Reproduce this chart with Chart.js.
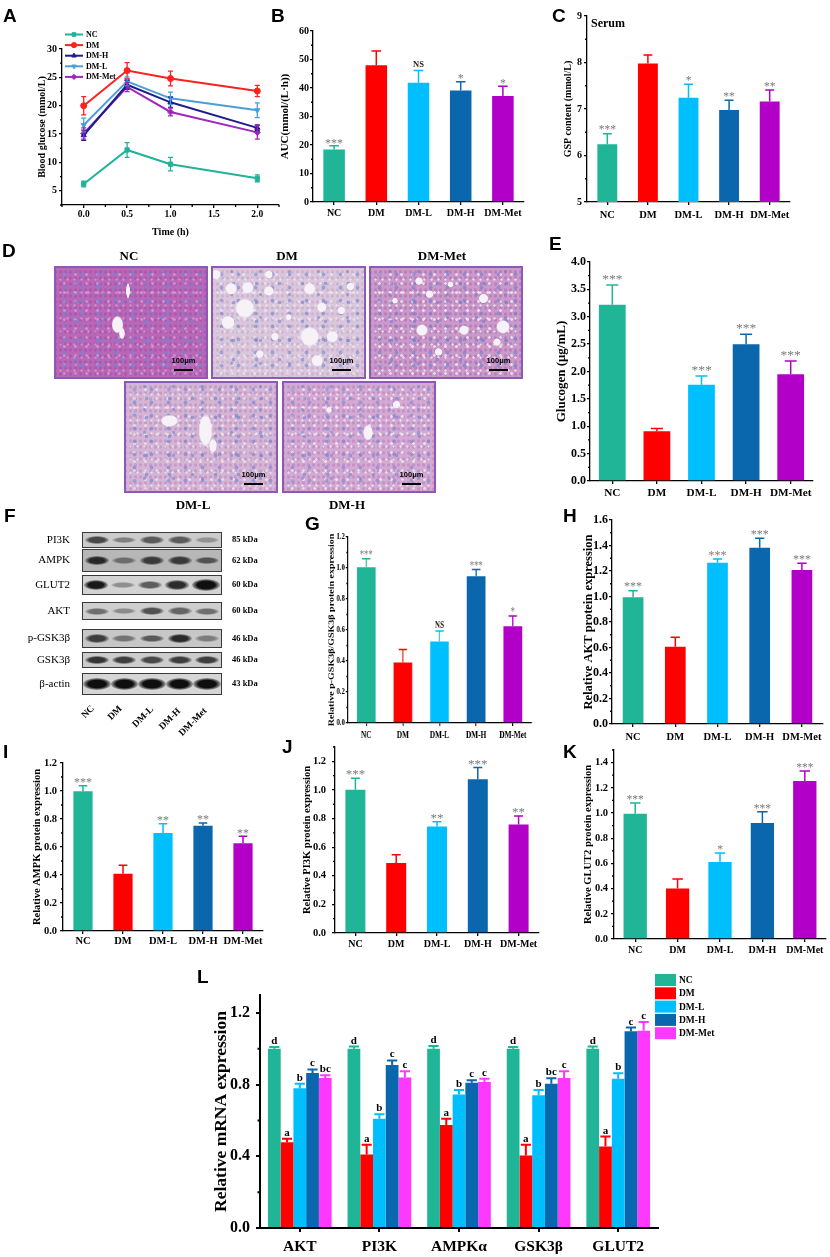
<!DOCTYPE html>
<html>
<head>
<meta charset="utf-8">
<script src="https://cdn.jsdelivr.net/npm/chart.js@4.4.1/dist/chart.umd.min.js"></script>
<style>
html,body{margin:0;padding:0;background:#fff;}
#page{position:relative;width:830px;height:1257px;overflow:hidden;background:#fff;}
.histo{position:absolute;box-sizing:border-box;border:2px solid #8e58b6;}
.blot{position:absolute;box-sizing:border-box;border:1px solid #3a3a3a;display:flex;justify-content:space-around;align-items:center;padding:0;}
.band{border-radius:50%;}
</style>
</head>
<body>
<div id="page"></div>
<script>
// ================= DATA =================
const groups = ['NC', 'DM', 'DM-L', 'DM-H', 'DM-Met'];

// A: blood glucose over time
const timeH = [0, 0.5, 1, 2];
const bgNC  = [6.2, 12.2, 9.7, 7.2];    const bgNCErr  = [0.5, 1.3, 1.2, 0.6];
const bgDM  = [20.0, 26.2, 24.8, 22.6]; const bgDMErr  = [1.6, 1.4, 1.3, 1.0];
const bgDMH = [14.8, 23.7, 20.6, 16.1]; const bgDMHErr = [0.9, 0.8, 0.9, 0.5];
const bgDML = [16.6, 24.3, 21.3, 19.2]; const bgDMLErr = [1.2, 0.8, 1.1, 1.3];
const bgMet = [15.1, 23.3, 18.9, 15.3]; const bgMetErr = [1.0, 0.8, 0.7, 1.2];
const ticksAy = [5, 10, 15, 20, 25, 30];
const ticksAx = [0, 0.5, 1, 1.5, 2];

// B: AUC
const aucVals = [18.4, 48.0, 41.8, 39.1, 37.2];
const aucErr  = [1.3, 5.0, 4.3, 3.1, 3.4];
const aucSig  = ['***', '', 'NS', '*', '*'];
const ticksB  = [0, 10, 20, 30, 40, 50, 60];

// C: GSP
const gspVals = [6.24, 7.98, 7.24, 6.98, 7.16];
const gspErr  = [0.23, 0.18, 0.29, 0.21, 0.25];
const gspSig  = ['***', '', '*', '**', '**'];
const ticksC  = [5, 6, 7, 8, 9];

// E: glycogen
const glyVals = [3.22, 0.91, 1.76, 2.50, 1.95];
const glyErr  = [0.36, 0.05, 0.16, 0.18, 0.24];
const glySig  = ['***', '', '***', '***', '***'];
const ticksE  = [0, 0.5, 1, 1.5, 2, 2.5, 3, 3.5, 4];

// G: p-GSK3b/GSK3b
const gskVals = [1.005, 0.39, 0.526, 0.947, 0.625];
const gskErr  = [0.055, 0.085, 0.067, 0.043, 0.065];
const gskSig  = ['***', '', 'NS', '***', '*'];
const ticksG  = [0, 0.2, 0.4, 0.6, 0.8, 1.0, 1.2];

// H: AKT protein
const aktVals = [0.995, 0.605, 1.265, 1.383, 1.207];
const aktErr  = [0.05, 0.075, 0.03, 0.073, 0.053];
const aktSig  = ['***', '', '***', '***', '***'];
const ticksH  = [0, 0.2, 0.4, 0.6, 0.8, 1.0, 1.2, 1.4, 1.6];

// I: AMPK protein
const ampkVals = [0.999, 0.409, 0.70, 0.752, 0.627];
const ampkErr  = [0.038, 0.06, 0.066, 0.02, 0.05];
const ampkSig  = ['***', '', '**', '**', '**'];
const ticksI   = [0, 0.2, 0.4, 0.6, 0.8, 1.0, 1.2];

// J: PI3K protein
const pi3kVals = [1.002, 0.489, 0.745, 1.074, 0.759];
const pi3kErr  = [0.08, 0.058, 0.033, 0.082, 0.058];
const pi3kSig  = ['***', '', '**', '***', '**'];
const ticksJ   = [0, 0.2, 0.4, 0.6, 0.8, 1.0, 1.2];

// K: GLUT2 protein
const glutVals = [0.995, 0.40, 0.612, 0.921, 1.254];
const glutErr  = [0.085, 0.077, 0.071, 0.088, 0.079];
const glutSig  = ['***', '', '*', '***', '***'];
const ticksK   = [0, 0.2, 0.4, 0.6, 0.8, 1.0, 1.2, 1.4];

// L: mRNA
const mrnaGenes = ['AKT', 'PI3K', 'AMPKα', 'GSK3β', 'GLUT2'];
const mrnaNC  = [1.0, 1.0, 1.0, 1.0, 1.0];          const mrnaNCErr  = [0.01, 0.012, 0.015, 0.01, 0.012];
const mrnaDM  = [0.478, 0.41, 0.575, 0.405, 0.455]; const mrnaDMErr  = [0.02, 0.055, 0.035, 0.06, 0.055];
const mrnaDML = [0.78, 0.61, 0.745, 0.74, 0.833];   const mrnaDMLErr = [0.025, 0.025, 0.025, 0.03, 0.03];
const mrnaDMH = [0.865, 0.91, 0.81, 0.805, 1.098];  const mrnaDMHErr = [0.02, 0.025, 0.015, 0.03, 0.02];
const mrnaMet = [0.837, 0.84, 0.815, 0.837, 1.10];  const mrnaMetErr = [0.015, 0.035, 0.018, 0.037, 0.05];
const mrnaLetNC  = ['d', 'd', 'd', 'd', 'd'];
const mrnaLetDM  = ['a', 'a', 'a', 'a', 'a'];
const mrnaLetDML = ['b', 'b', 'b', 'b', 'b'];
const mrnaLetDMH = ['c', 'c', 'c', 'bc', 'c'];
const mrnaLetMet = ['bc', 'c', 'c', 'c', 'c'];
const ticksL = [0, 0.4, 0.8, 1.2];

// F: western blot (picture mock-up)
const blotNames = ['PI3K', 'AMPK', 'GLUT2', 'AKT', 'p-GSK3β', 'GSK3β', 'β-actin'];
const blotKDa   = ['85 kDa', '62 kDa', '60 kDa', '60 kDa', '46 kDa', '46 kDa', '43 kDa'];
const blotBands = [[0.7,0.4,0.6,0.6,0.3],[0.85,0.45,0.75,0.75,0.6],[0.95,0.35,0.6,0.85,1],[0.5,0.35,0.65,0.55,0.5],[0.75,0.45,0.6,0.85,0.4],[0.8,0.75,0.7,0.75,0.75],[1,1,1,1,1]];

// ================= STYLE / LAYOUT =================
const SERIF = '"Liberation Serif","Times New Roman",serif';
const SANS = '"Liberation Sans",Arial,sans-serif';
const PW = 830, PH = 1257;
const page = document.getElementById('page');
const C_NC = '#1fb596', C_DM = '#ff0000', C_DML = '#00bfff', C_DMH = '#0a66ad', C_MET = '#b200c8', C_MET_L = '#ff38ff';
const barCols = [C_NC, C_DM, C_DML, C_DMH, C_MET];

function makeCanvas(sx) {
  const c = document.createElement('canvas');
  c.width = Math.round(PW / sx); c.height = PH;
  c.style.position = 'absolute'; c.style.left = '0px'; c.style.top = '0px';
  c.style.width = PW + 'px'; c.style.height = PH + 'px';
  page.appendChild(c);
  return c;
}
function fnt(size, weight) { return {size: size, weight: weight || 'bold', family: SERIF, lineHeight: 1.2}; }

function yAxis(o) {
  return {
    type: 'linear', position: 'left', min: o.min, max: o.max,
    afterBuildTicks: s => { s.ticks = o.ticks.map(v => ({value: v})); },
    afterFit: s => { s.width = o.w; },
    ticks: {font: fnt(o.fs), color: '#000', padding: o.pad, callback: v => Number(v).toFixed(o.dec)},
    grid: {display: true, drawOnChartArea: false, drawTicks: true, tickLength: o.tl, color: '#000', lineWidth: o.bw},
    border: {display: true, color: '#000', width: o.bw},
    title: {display: true, text: o.title, font: fnt(o.tfs), color: '#000', padding: 0}
  };
}
function xCat(o) {
  return {
    type: 'category', position: 'bottom', offset: true,
    afterFit: s => { s.height = o.h; },
    ticks: {font: fnt(o.fs), color: '#000', padding: o.pad, autoSkip: false, maxRotation: 0, minRotation: 0},
    grid: {display: true, drawOnChartArea: false, drawTicks: true, tickLength: o.tl, color: '#000', lineWidth: o.bw, offset: false},
    border: {display: true, color: '#000', width: o.bw}
  };
}

const errPlugin = {
  id: 'errbars',
  afterDatasetsDraw(chart, args, opts) {
    const ctx = chart.ctx, ys = chart.scales.y;
    chart.data.datasets.forEach((ds, di) => {
      if (!ds.err) return;
      const meta = chart.getDatasetMeta(di);
      meta.data.forEach((el, i) => {
        const raw = ds.data[i];
        const v = (typeof raw === 'object') ? raw.y : raw;
        const e = ds.err[i];
        const col = Array.isArray(ds.errColor) ? ds.errColor[i] : ds.errColor;
        const x = el.x;
        const yT = ys.getPixelForValue(v + e);
        const yB = ys.getPixelForValue(opts.both ? v - e : v);
        const cap = (opts.capPx != null) ? opts.capPx : el.width * opts.capFrac;
        ctx.save();
        ctx.strokeStyle = col; ctx.lineWidth = opts.lw;
        ctx.beginPath();
        ctx.moveTo(x, yB); ctx.lineTo(x, yT);
        ctx.moveTo(x - cap / 2, yT); ctx.lineTo(x + cap / 2, yT);
        if (opts.both) { ctx.moveTo(x - cap / 2, yB); ctx.lineTo(x + cap / 2, yB); }
        ctx.stroke();
        const s = ds.sig ? ds.sig[i] : '';
        if (s) {
          const isStar = s.indexOf('*') >= 0;
          ctx.font = isStar ? opts.starFont : opts.textFont;
          ctx.fillStyle = isStar ? opts.starColor : opts.textColor;
          ctx.textAlign = 'center'; ctx.textBaseline = 'alphabetic';
          const m = ctx.measureText(s);
          const gap = isStar ? opts.starGap : opts.textGap;
          ctx.fillText(s, x, yT - gap - m.actualBoundingBoxDescent);
        }
        ctx.restore();
      });
    });
  }
};

const minorPlugin = {
  id: 'minor',
  afterDraw(chart, args, opts) {
    const ctx = chart.ctx;
    (opts.axes || []).forEach(ax => {
      const sc = chart.scales[ax.id];
      const t = sc.ticks.map(k => k.value);
      if (t.length < 2) return;
      const step = t[1] - t[0];
      const vals = [];
      for (let v = t[0] - step / 2; v >= sc.min - 1e-9; v -= step) vals.push(v);
      for (let v = t[0] + step / 2; v <= sc.max + 1e-9; v += step) vals.push(v);
      ctx.save(); ctx.strokeStyle = '#000'; ctx.lineWidth = ax.lw; ctx.beginPath();
      vals.forEach(v => {
        const p = sc.getPixelForValue(v);
        if (sc.isHorizontal()) { ctx.moveTo(p, sc.top); ctx.lineTo(p, sc.top + ax.len); }
        else { ctx.moveTo(sc.right, p); ctx.lineTo(sc.right - ax.len, p); }
      });
      ctx.stroke(); ctx.restore();
    });
  }
};

function errOpts(starSize, starGap, textSize, textGap, lw, capFrac) {
  return {lw: lw || 1.5, capFrac: capFrac || 0.45, starFont: starSize + 'px ' + SERIF, starColor: '#7a7a7a', starGap: starGap,
    textFont: 'bold ' + textSize + 'px ' + SERIF, textColor: '#222', textGap: textGap};
}

function buildBar(cfg) {
  const sx = cfg.sx || 1, cw = PW / sx;
  const c = makeCanvas(sx);
  const l = cfg.area.l / sx, r = cfg.area.r / sx, t = cfg.area.t, b = cfg.area.b;
  const yo = Object.assign({bw: 1.3, tl: 3}, cfg.y);
  yo.w = l - cfg.y.titleX / sx + 0.6 * cfg.y.tfs;
  const xo = Object.assign({bw: yo.bw, tl: 3, h: 30}, cfg.x);
  xo.pad = cfg.x.labelY - b - xo.tl - 0.6 * xo.fs;
  const pluginOpts = Object.assign({legend: {display: false}, tooltip: {enabled: false}, title: {display: false},
    errbars: cfg.err, minor: {axes: [{id: 'y', len: cfg.minorLen || 2, lw: yo.bw}]}}, cfg.pluginOpts || {});
  return new Chart(c, {
    type: 'bar',
    data: {labels: cfg.labels, datasets: cfg.datasets},
    options: {
      responsive: false, animation: false, events: [],
      layout: {padding: {left: l - yo.w, right: cw - r, top: t, bottom: PH - b - xo.h}},
      scales: {x: xCat(xo), y: yAxis(yo)},
      plugins: pluginOpts
    },
    plugins: [errPlugin, minorPlugin].concat(cfg.extra || [])
  });
}
function single(vals, errs, sig, bp) {
  return [{data: vals, backgroundColor: barCols, borderWidth: 0, barPercentage: bp, categoryPercentage: 1, err: errs, errColor: barCols, sig: sig}];
}

// ================= PANEL A (line) =================
(function buildA() {
  const c = makeCanvas(1);
  const area = {l: 62, t: 49, r: 279, b: 205};
  const yfs = 10, ytfs = 10, yTitleX = 42, xfs = 9.5, xtfs = 10, xTitleY = 232, xLabY = 215, tl = 3, bw = 1.3;
  const yW = area.l - yTitleX + 0.6 * ytfs;
  const xH = xTitleY - area.b + 0.6 * xtfs;
  const series = [
    ['NC', bgNC, bgNCErr, '#21b39a', 'rect', 0],
    ['DM', bgDM, bgDMErr, '#ff2020', 'circle', 0],
    ['DM-H', bgDMH, bgDMHErr, '#1d1d8e', 'triangle', 0],
    ['DM-L', bgDML, bgDMLErr, '#4c9ed9', 'triangle', 180],
    ['DM-Met', bgMet, bgMetErr, '#a123c1', 'rectRot', 0]
  ];
  const datasets = series.map(s => ({
    label: s[0], data: timeH.map((tv, i) => ({x: tv, y: s[1][i]})), err: s[2], errColor: s[3],
    borderColor: s[3], backgroundColor: s[3], borderWidth: 2, pointStyle: s[4], pointRotation: s[5],
    pointRadius: 3, pointBorderWidth: 1, tension: 0, fill: false
  }));
  const legendA = {
    id: 'legA',
    afterDraw(chart, args, o) {
      const ctx = chart.ctx;
      chart.data.datasets.forEach((ds, i) => {
        const y = o.y0 + i * o.dy;
        ctx.save();
        ctx.strokeStyle = ds.borderColor; ctx.fillStyle = ds.borderColor; ctx.lineWidth = 2;
        ctx.beginPath(); ctx.moveTo(o.x0, y); ctx.lineTo(o.x0 + o.len, y); ctx.stroke();
        ctx.lineWidth = 1;
        if (Chart.helpers && Chart.helpers.drawPoint) {
          Chart.helpers.drawPoint(ctx, {pointStyle: ds.pointStyle, rotation: ds.pointRotation, radius: 2.6, borderWidth: 1}, o.x0 + o.len / 2, y);
        }
        ctx.fillStyle = '#000'; ctx.font = 'bold 8px ' + SERIF; ctx.textAlign = 'left'; ctx.textBaseline = 'middle';
        ctx.fillText(ds.label, o.tx, y + 0.5);
        ctx.restore();
      });
    }
  };
  new Chart(c, {
    type: 'line',
    data: {datasets: datasets},
    options: {
      responsive: false, animation: false, events: [],
      layout: {padding: {left: area.l - yW, right: PW - area.r, top: area.t, bottom: PH - area.b - xH}},
      scales: {
        x: {type: 'linear', position: 'bottom', min: -0.25, max: 2.25,
          afterBuildTicks: s => { s.ticks = ticksAx.map(v => ({value: v})); },
          afterFit: s => { s.height = xH; },
          ticks: {font: fnt(xfs), color: '#000', padding: xLabY - area.b - tl - 0.6 * xfs, callback: v => Number(v).toFixed(1)},
          grid: {display: true, drawOnChartArea: false, drawTicks: true, tickLength: tl, color: '#000', lineWidth: bw},
          border: {display: true, color: '#000', width: bw},
          title: {display: true, text: 'Time (h)', font: fnt(xtfs), color: '#000', padding: 0}},
        y: yAxis({min: 2.5, max: 30, ticks: ticksAy, dec: 0, fs: yfs, tl: tl, pad: 2, bw: bw, title: 'Blood glucose (mmol/L)', tfs: ytfs, w: yW})
      },
      plugins: {legend: {display: false}, tooltip: {enabled: false}, title: {display: false},
        errbars: {both: true, capPx: 5, lw: 1.3},
        minor: {axes: [{id: 'y', len: 2, lw: bw}, {id: 'x', len: 2, lw: bw}]},
        legA: {x0: 65, len: 18, y0: 34.5, dy: 10.6, tx: 86}}
    },
    plugins: [errPlugin, minorPlugin, legendA]
  });
})();

// ================= BAR PANELS =================
buildBar({area: {l: 313, t: 31, r: 524, b: 202}, labels: groups, datasets: single(aucVals, aucErr, aucSig, 0.51),
  y: {min: 0, max: 60, ticks: ticksB, dec: 0, fs: 10, pad: 1, title: 'AUC(mmol/(L·h))', tfs: 11, titleX: 285},
  x: {fs: 10, labelY: 213}, err: errOpts(12, 2.3, 8.5, 3.5)});

buildBar({area: {l: 587, t: 16, r: 790, b: 202}, labels: groups, datasets: single(gspVals, gspErr, gspSig, 0.49),
  y: {min: 5, max: 9, ticks: ticksC, dec: 0, fs: 10, pad: 2, title: 'GSP content (mmol/L)', tfs: 10, titleX: 568},
  x: {fs: 10.5, labelY: 215}, err: errOpts(11.5, 3.3, 8.5, 3)});

buildBar({area: {l: 590, t: 262, r: 813, b: 481}, labels: groups, datasets: single(glyVals, glyErr, glySig, 0.6),
  y: {min: 0, max: 4, ticks: ticksE, dec: 1, fs: 12, pad: 1, title: 'Glucogen (μg/mL)', tfs: 13, titleX: 562},
  x: {fs: 11.2, labelY: 493}, err: errOpts(13.5, 5, 9, 3)});

buildBar({sx: 0.75, area: {l: 348, t: 537, r: 531, b: 723}, labels: groups, datasets: single(gskVals, gskErr, gskSig, 0.51),
  y: {min: 0, max: 1.2, ticks: ticksG, dec: 1, fs: 9, pad: 1, title: 'Relative p-GSK3β/GSK3β protein expression', tfs: 10, titleX: 332},
  x: {fs: 9.7, labelY: 735}, err: errOpts(11.5, 4, 9.5, 2.7)});

buildBar({area: {l: 612, t: 520, r: 823, b: 724}, labels: groups, datasets: single(aktVals, aktErr, aktSig, 0.49),
  y: {min: 0, max: 1.6, ticks: ticksH, dec: 1, fs: 12, pad: 1, title: 'Relative AKT protein expression', tfs: 12.5, titleX: 589},
  x: {fs: 10.5, labelY: 737}, err: errOpts(12, 3.3, 9, 3)});

buildBar({area: {l: 63, t: 763, r: 263, b: 931}, labels: groups, datasets: single(ampkVals, ampkErr, ampkSig, 0.48),
  y: {min: 0, max: 1.2, ticks: ticksI, dec: 1, fs: 10.5, pad: 3, title: 'Relative AMPK protein expression', tfs: 10.5, titleX: 37},
  x: {fs: 10.5, labelY: 941}, err: errOpts(12, 2.5, 9, 3)});

buildBar({area: {l: 335, t: 747, r: 539, b: 933}, labels: groups, datasets: single(pi3kVals, pi3kErr, pi3kSig, 0.49),
  y: {min: 0, max: 1.3, ticks: ticksJ, dec: 1, fs: 10.5, pad: 6, title: 'Relative PI3K protein expression', tfs: 10.5, titleX: 307},
  x: {fs: 10, labelY: 944}, err: errOpts(13, 3, 9, 3)});

buildBar({area: {l: 614, t: 750, r: 826, b: 939}, labels: groups, datasets: single(glutVals, glutErr, glutSig, 0.55),
  y: {min: 0, max: 1.5, ticks: ticksK, dec: 1, fs: 10.5, pad: 3, title: 'Relative GLUT2 protein expression', tfs: 10.5, titleX: 588},
  x: {fs: 10, labelY: 950}, err: errOpts(11.5, 3, 9, 3)});

// ================= PANEL L (grouped) =================
(function buildL() {
  const mk = (label, vals, errs, lets, col) => ({label: label, data: vals, err: errs, sig: lets, errColor: col, backgroundColor: col,
    borderWidth: 0, barPercentage: 1, categoryPercentage: 0.8});
  const datasets = [
    mk('NC', mrnaNC, mrnaNCErr, mrnaLetNC, C_NC),
    mk('DM', mrnaDM, mrnaDMErr, mrnaLetDM, C_DM),
    mk('DM-L', mrnaDML, mrnaDMLErr, mrnaLetDML, C_DML),
    mk('DM-H', mrnaDMH, mrnaDMHErr, mrnaLetDMH, C_DMH),
    mk('DM-Met', mrnaMet, mrnaMetErr, mrnaLetMet, C_MET_L)
  ];
  const legendL = {
    id: 'legL',
    afterDraw(chart, args, o) {
      const ctx = chart.ctx;
      chart.data.datasets.forEach((ds, i) => {
        const y = o.y0 + i * o.dy;
        ctx.save();
        ctx.fillStyle = ds.backgroundColor; ctx.fillRect(o.x0, y - o.bh / 2, o.bw, o.bh);
        ctx.fillStyle = '#000'; ctx.font = 'bold 9.5px ' + SERIF; ctx.textAlign = 'left'; ctx.textBaseline = 'middle';
        ctx.fillText(ds.label, o.x0 + o.bw + 3, y + 0.5);
        ctx.restore();
      });
    }
  };
  buildBar({area: {l: 260, t: 995, r: 658, b: 1228}, labels: mrnaGenes, datasets: datasets,
    y: {min: 0, max: 1.3, ticks: ticksL, dec: 1, fs: 16, tl: 4, pad: 6, bw: 2, title: 'Relative mRNA expression', tfs: 17.5, titleX: 221},
    x: {fs: 15.5, tl: 4, labelY: 1247},
    minorLen: 2.5,
    err: {lw: 2, capFrac: 0.8, starFont: 'bold 11px ' + SERIF, starColor: '#000', starGap: 3, textFont: 'bold 11px ' + SERIF, textColor: '#000', textGap: 3},
    pluginOpts: {legL: {x0: 655, y0: 980, dy: 13.3, bw: 21, bh: 12}},
    extra: [legendL]
  });
})();

// ================= D: histology picture mock-ups =================
const histoSpecs = [
  {x: 54, y: 266, w: 154, h: 113, base: '#b968b8', nuc: 'rgba(110,135,210,0.7)', dots: 'rgba(225,180,225,0.55)', pink: 'rgba(150,60,150,0.35)',
   vac: [[41, 52, 6, 9], [48, 21, 2, 8], [44, 60, 3, 6]]},
  {x: 211, y: 266, w: 155, h: 113, base: '#d9c8db', nuc: 'rgba(105,130,205,0.55)', dots: 'rgba(250,250,250,0.5)', pink: 'rgba(190,140,195,0.35)',
   vac: [[21,37,10,10],[10,50,7,7],[12,19,6,6],[23,18,6,6],[37,21,5,5],[64,63,10,10],[64,19,6,6],[72,36,5,5],[79,63,6,6],[69,85,6,6],[91,17,4,4],[41,63,4,4],[31,79,4,4],[2,6,5,5],[37,6,4,4],[85,39,4,4],[50,45,3,3]]},
  {x: 369, y: 266, w: 154, h: 113, base: '#c99bc9', nuc: 'rgba(105,130,205,0.6)', dots: 'rgba(250,250,250,0.7)', pink: 'rgba(170,70,170,0.35)',
   vac: [[88,54,7,7],[34,57,6,6],[75,28,5,5],[39,24,4,4],[62,57,5,5],[32,12,4,4],[84,68,4,4],[45,77,4,4],[16,30,3,3],[53,15,3,3]]},
  {x: 124, y: 381, w: 154, h: 112, base: '#d3b6d4', nuc: 'rgba(105,135,210,0.6)', dots: 'rgba(250,250,250,0.55)', pink: 'rgba(180,90,180,0.3)',
   vac: [[29,35,9,6],[53,44,7,17],[58,58,4,7]]},
  {x: 282, y: 381, w: 154, h: 112, base: '#d1abd2', nuc: 'rgba(105,135,210,0.55)', dots: 'rgba(250,250,250,0.65)', pink: 'rgba(180,80,180,0.3)',
   vac: [[56,46,5,8],[75,20,4,4],[30,25,3,3]]}
];
function dotLayer(col, r, px, py, ox, oy) {
  return 'radial-gradient(circle at 50% 50%, ' + col + ' 0 ' + r + 'px, rgba(0,0,0,0) ' + (r + 0.7) + 'px) ' + ox + 'px ' + oy + 'px/' + px + 'px ' + py + 'px';
}
function histoBg(h) {
  const layers = [];
  h.vac.forEach(v => layers.push('radial-gradient(' + v[2] + 'px ' + v[3] + 'px at ' + v[0] + '% ' + v[1] + '%, rgba(247,242,247,1) 0 80%, rgba(247,242,247,0) 100%) no-repeat'));
  layers.push(dotLayer(h.nuc, 1.6, 17, 13, 0, 0));
  layers.push(dotLayer(h.nuc, 1.4, 23, 19, 9, 6));
  layers.push(dotLayer(h.nuc, 1.2, 29, 23, 4, 15));
  layers.push(dotLayer(h.dots, 1.0, 11, 9, 3, 2));
  layers.push(dotLayer(h.dots, 0.8, 7, 13, 1, 5));
  layers.push(dotLayer(h.pink, 1.3, 5, 6, 2, 1));
  layers.push(h.base);
  return layers.join(',');
}
histoSpecs.forEach(h => {
  const d = document.createElement('div');
  d.className = 'histo';
  d.style.left = h.x + 'px'; d.style.top = h.y + 'px'; d.style.width = h.w + 'px'; d.style.height = h.h + 'px';
  d.style.background = histoBg(h);
  page.insertBefore(d, page.firstChild);
});

// ================= F: blot mock-up =================
const blotTop = [532, 549, 575, 602, 629, 652, 673];
const blotH = [16, 23, 20, 18, 19, 16, 22];
const blotBg = ['#cbcbcb', '#b7b7b7', '#d3d3d3', '#cecece', '#c7c7c7', '#cccccc', '#d6d6d6'];
blotNames.forEach((nm, r) => {
  const d = document.createElement('div');
  d.className = 'blot';
  d.style.left = '82px'; d.style.width = '140px'; d.style.top = blotTop[r] + 'px'; d.style.height = blotH[r] + 'px';
  d.style.background = blotBg[r];
  blotBands[r].forEach(k => {
    const b = document.createElement('div');
    b.className = 'band';
    const big = (r === 6) || (r === 2 && k >= 1);
    b.style.width = (big ? 28 : 24) + 'px';
    b.style.height = Math.min(blotH[r] - 2, (big ? 12 : 4 + 6 * k)) + 'px';
    b.style.background = 'radial-gradient(ellipse at center, rgba(15,15,15,' + k + ') 0 45%, rgba(15,15,15,0) 78%)';
    d.appendChild(b);
  });
  page.insertBefore(d, page.firstChild);
});

// ================= Overlay text =================
(function overlay() {
  const ov = document.createElement('canvas');
  const dpr = window.devicePixelRatio || 1;
  ov.width = PW * dpr; ov.height = PH * dpr;
  ov.style.position = 'absolute'; ov.style.left = '0px'; ov.style.top = '0px';
  ov.style.width = PW + 'px'; ov.style.height = PH + 'px';
  page.appendChild(ov);
  const o = ov.getContext('2d');
  o.scale(dpr, dpr);
  function txt(s, x, y, font, align, base, color) {
    o.font = font; o.textAlign = align || 'left'; o.textBaseline = base || 'alphabetic'; o.fillStyle = color || '#000';
    o.fillText(s, x, y);
  }
  const letters = [['A', 3, 22], ['B', 271, 22], ['C', 552, 22], ['D', 2, 257], ['E', 549, 250], ['F', 4, 522],
    ['G', 305, 530], ['H', 563, 522], ['I', 3, 758], ['J', 282, 753], ['K', 563, 758], ['L', 197, 983]];
  letters.forEach(L => txt(L[0], L[1], L[2], 'bold 19px ' + SANS));

  txt('Serum', 591, 27, 'bold 12px ' + SERIF);

  [['NC', 129, 260], ['DM', 287, 260], ['DM-Met', 442, 260], ['DM-L', 193, 509], ['DM-H', 347, 509]].forEach(t =>
    txt(t[0], t[1], t[2], 'bold 13px ' + SERIF, 'center'));
  histoSpecs.forEach(h => {
    const bx1 = h.x + h.w - 34, bx2 = h.x + h.w - 15, by = h.y + h.h - 9;
    o.strokeStyle = '#000'; o.lineWidth = 2;
    o.beginPath(); o.moveTo(bx1, by); o.lineTo(bx2, by); o.stroke();
    txt('100μm', (bx1 + bx2) / 2, by - 7, 'bold 7.5px ' + SANS, 'center');
  });

  blotNames.forEach((nm, r) => {
    const cy = blotTop[r] + blotH[r] / 2;
    txt(nm, 70, cy, '11px ' + SERIF, 'right', 'middle');
    txt(blotKDa[r], 232, cy, 'bold 8.5px ' + SERIF, 'left', 'middle');
  });
  const laneLab = [[88, 712], [115, 713], [143, 717], [170, 719], [193, 722]];
  groups.forEach((g, i) => {
    o.save();
    o.translate(laneLab[i][0], laneLab[i][1]);
    o.rotate(-Math.PI / 4);
    txt(g, 0, 0, 'bold 9.5px ' + SERIF, 'center', 'middle');
    o.restore();
  });
})();
</script>
</body>
</html>
